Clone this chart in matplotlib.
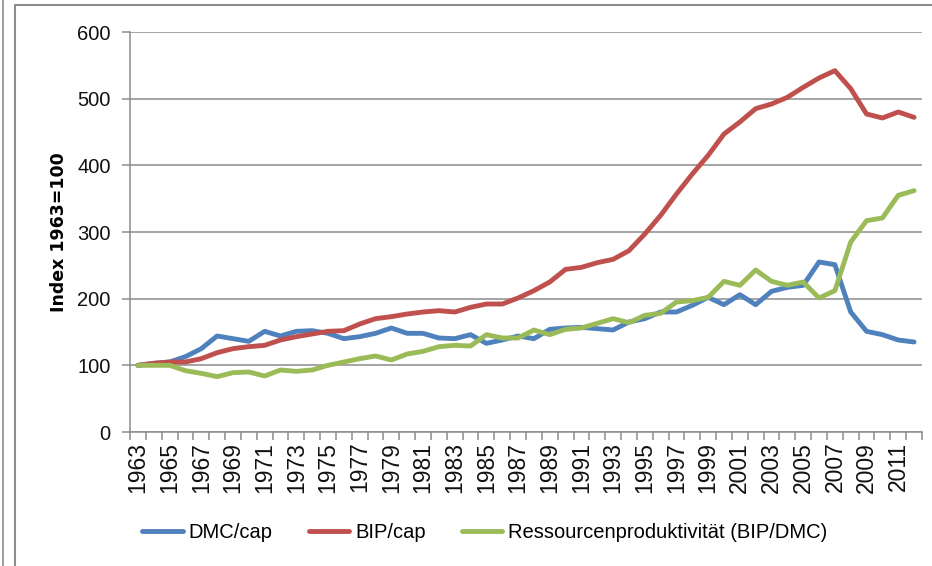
import matplotlib
matplotlib.use('agg')
import matplotlib.pyplot as plt
from matplotlib.lines import Line2D
import numpy as np

plt.rcParams['font.family'] = ['Liberation Sans', 'DejaVu Sans']

years = list(range(1963, 2013))

dmc_cap = [100, 103, 105, 113, 125, 144, 140, 136, 151, 144,
           151, 152, 148, 140, 143, 148, 156, 148, 148, 141,
           140, 146, 133, 138, 144, 140, 154, 156, 157, 155,
           153, 165, 170, 180, 180, 190, 202, 191, 206, 191,
           211, 217, 220, 255, 251, 180, 151, 146, 138, 135]

bip_cap = [100, 103, 105, 105, 110, 119, 125, 128, 130, 138,
           143, 147, 151, 152, 162, 170, 173, 177, 180, 182,
           180, 187, 192, 192, 201, 212, 225, 244, 247, 254,
           259, 272, 297, 325, 357, 387, 415, 447, 465, 485,
           492, 502, 517, 531, 542, 515, 477, 471, 480, 472]

ressourcenprod = [100, 100, 100, 92, 88, 83, 89, 90, 84, 93,
                  91, 93, 100, 105, 110, 114, 108, 117, 121, 128,
                  130, 129, 146, 141, 141, 153, 146, 154, 156, 163,
                  170, 164, 175, 178, 195, 197, 202, 226, 220, 243,
                  226, 220, 225, 201, 212, 285, 317, 321, 355, 362]

labels = ['DMC/cap', 'BIP/cap', 'Ressourcenproduktivität (BIP/DMC)']
colors = ['#4F81BD', '#C0504D', '#9BBB59']

fig = plt.figure(figsize=(9.32, 5.66), dpi=100)
ax = fig.add_axes([130 / 932, 1 - 432 / 566, 792 / 932, 400 / 566])

for series, lab, col in zip([dmc_cap, bip_cap, ressourcenprod], labels, colors):
    ax.plot(years, series, color=col, lw=3.5, label=lab, solid_capstyle='round')

ax.set_xlim(1962.5, 2012.5)
ax.set_ylim(0, 600)
ax.set_yticks(np.arange(0, 601, 100))
ax.yaxis.grid(True, color='#8c8c8c', lw=1.1)
ax.set_axisbelow(True)

ax.set_xticks(years[::2])
ax.set_xticklabels([str(y) for y in years[::2]], rotation=90, fontsize=16.5)
ax.set_xticks(np.arange(1962.5, 2013, 1), minor=True)
ax.tick_params(axis='x', which='major', length=0, pad=7, colors='#111111')
ax.tick_params(axis='x', which='minor', length=6, color='#8c8c8c', width=1.1)
ax.tick_params(axis='y', length=6, color='#8c8c8c', width=1.1, pad=8,
               labelsize=14.5, labelcolor='#111111')

for s in ['top', 'right']:
    ax.spines[s].set_visible(False)
for s in ['left', 'bottom']:
    ax.spines[s].set_color('#8c8c8c')
    ax.spines[s].set_linewidth(1.1)

fig.text(59 / 932, 1 - 232 / 566, 'Index 1963=100', rotation=90, fontsize=12.5,
         fontweight='bold', family='DejaVu Sans', ha='center', va='center')

fig.legend(loc='center', bbox_to_anchor=(485 / 932, 1 - 533 / 566), ncol=3,
           frameon=False, fontsize=14.5, handlelength=2.0, handletextpad=0.3,
           columnspacing=1.8)

# chart border like the excel frame
fig.add_artist(Line2D([15 / 932, 15 / 932, 1.0], [0, 1 - 5 / 566, 1 - 5 / 566],
                      transform=fig.transFigure, color='#8c8c8c', lw=1.5))
fig.add_artist(Line2D([3 / 932, 3 / 932], [0, 1], transform=fig.transFigure,
                      color='#8c8c8c', lw=1.2))

fig.savefig('out.png', dpi=100)
